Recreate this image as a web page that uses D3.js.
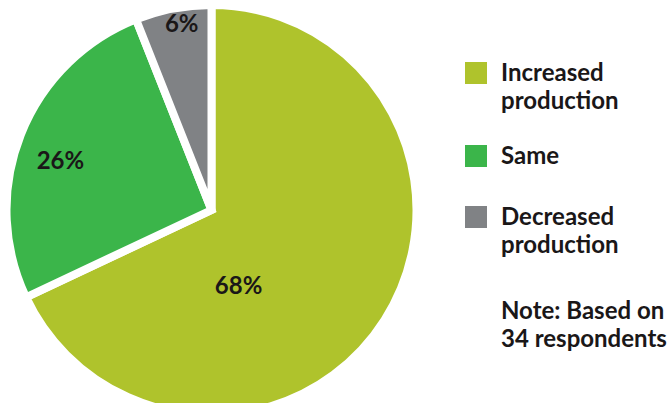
<!DOCTYPE html>
<html><head><meta charset="utf-8">
<script src="https://cdn.jsdelivr.net/npm/d3@7"></script>
<style>
html,body{margin:0;padding:0;background:#fff;overflow:hidden}
text{font-family:Lato,"Open Sans",sans-serif;font-weight:700;fill:#1a1718}
</style></head>
<body><svg id="c" width="671" height="403"></svg>
<script>
const categories = ["Increased production", "Same", "Decreased production"];
const values = [68, 26, 6];
const valueLabels = ["68%", "26%", "6%"];
const legendLines = [["Increased", "production"], ["Same"], ["Decreased", "production"]];
const noteLines = ["Note: Based on", "34 respondents"];
const colors = ["#afc32c", "#3bb54a", "#808285"];

const svg = d3.select("#c");
const cx = 211.5, cy = 210, R = 205;
const g = svg.append("g").attr("transform", `translate(${cx},${cy})`);
const pie = d3.pie().sort(null).value(d => d)(values);
const arc = d3.arc().innerRadius(0).outerRadius(R);
g.selectAll("path").data(pie).join("path")
  .attr("d", arc).attr("fill", (d, i) => colors[i])
  .attr("stroke", "#fff").attr("stroke-width", 8).attr("stroke-linejoin", "miter");

// label placement: radius and angle offset per slice
const labelPos = [{r: 80, da: 0.66}, {r: 159, da: -0.06}, {r: 189, da: 0.03}];
g.selectAll("text.v").data(pie).join("text").attr("class", "v")
  .attr("x", (d, i) => { const a = (d.startAngle + d.endAngle) / 2 + labelPos[i].da; return labelPos[i].r * Math.sin(a); })
  .attr("y", (d, i) => { const a = (d.startAngle + d.endAngle) / 2 + labelPos[i].da; return -labelPos[i].r * Math.cos(a); })
  .attr("dy", "0.35em").attr("text-anchor", "middle").style("font-size", "24px")
  .text((d, i) => valueLabels[i]);

// legend
const legTops = [62, 145, 206];
const lg = svg.append("g");
categories.forEach((c, i) => {
  lg.append("rect").attr("x", 465).attr("y", legTops[i]).attr("width", 22).attr("height", 22).attr("fill", colors[i]);
  legendLines[i].forEach((t, j) => {
    lg.append("text").attr("x", 501).attr("y", legTops[i] + 19 + j * 28).style("font-size", "24px").text(t);
  });
});
noteLines.forEach((t, j) => {
  svg.append("text").attr("x", 501).attr("y", 319 + j * 28).style("font-size", "24px").text(t);
});
</script></body></html>
